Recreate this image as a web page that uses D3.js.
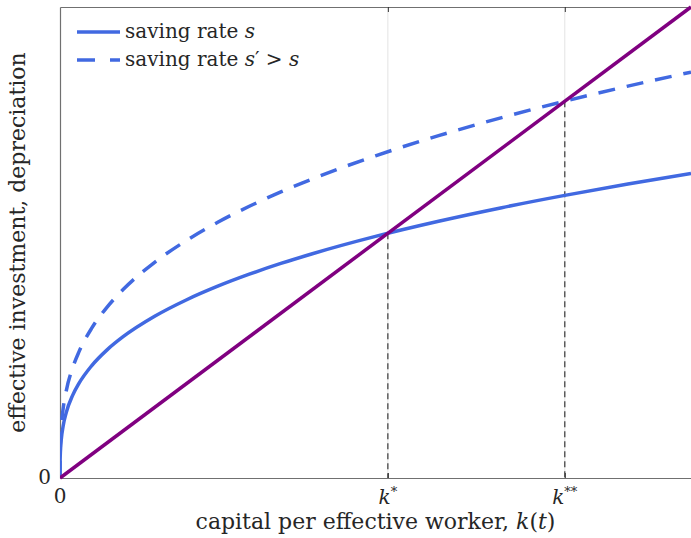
<!DOCTYPE html>
<html>
<head>
<meta charset="utf-8">
<script src="https://cdn.jsdelivr.net/npm/d3@7"></script>
<style>
  html, body { margin: 0; padding: 0; background: #fff; }
  svg { display: block; }
  text { font-family: "DejaVu Serif", "Liberation Serif", serif; fill: #262626; }
</style>
</head>
<body>
<svg id="chart" width="691" height="538"></svg>
<script>
// Capital per effective worker (horizontal values)
const capital = [0, 0.001, 0.005, 0.01, 0.02, 0.05, 0.1, 0.2, 0.3, 0.5, 0.75, 1, 1.5, 2, 2.5, 3, 3.5, 4, 5, 6, 7, 8, 9, 10];
// Effective investment with saving rate s
const investmentLow = [0, 0.30, 0.513, 0.646, 0.814, 1.105, 1.393, 1.754, 2.008, 2.381, 2.726, 3.0, 3.434, 3.780, 4.072, 4.327, 4.555, 4.762, 5.130, 5.451, 5.739, 6.0, 6.240, 6.463];
// Effective investment with the higher saving rate s'
const investmentHigh = [0, 0.40, 0.684, 0.862, 1.086, 1.474, 1.857, 2.339, 2.678, 3.175, 3.634, 4.0, 4.579, 5.040, 5.429, 5.769, 6.073, 6.350, 6.840, 7.268, 7.652, 8.0, 8.320, 8.618];
// Effective depreciation (break-even line)
const depreciationK = [0, 10];
const depreciationV = [0, 10];
// Steady states and their tick labels
const steadyK = [5.196, 8.0];
const steadyV = [5.196, 8.0];
const steadyStars = ["*", "**"];
const legendLabels = ["saving rate ", "saving rate "];

const W = 691, H = 538;
const m = { left: 60, right: 0, top: 7, bottom: 60 };
const svg = d3.select("#chart");

const x = d3.scaleLinear().domain([0, 10]).range([m.left, W - m.right]);
const y = d3.scaleLinear().domain([0, 10]).range([H - m.bottom, m.top]);

const blue = "#4169E1", purple = "#800080", axisGray = "#707070";

svg.append("defs").append("clipPath").attr("id", "plotClip")
  .append("rect").attr("x", x(0)).attr("y", y(10) - 2)
  .attr("width", x(10) - x(0) + 2).attr("height", y(0) - y(10) + 4);

// light grid lines at the steady states
svg.append("g").selectAll("line").data(steadyK).join("line")
  .attr("x1", d => x(d)).attr("x2", d => x(d))
  .attr("y1", y(10)).attr("y2", y(0))
  .attr("stroke", "#e3e3e3").attr("stroke-width", 1);

// axes
const xAxisBottom = d3.axisBottom(x).tickValues([0, ...steadyK]).tickSizeInner(-5).tickSizeOuter(0).tickFormat("");
const xAxisTop = d3.axisTop(x).tickValues(steadyK).tickSizeInner(-5).tickSizeOuter(0).tickFormat("");
const yAxis = d3.axisLeft(y).tickValues([0]).tickSizeInner(0).tickSizeOuter(0).tickFormat("");

function styleAxis(g) {
  g.select(".domain").attr("stroke", axisGray).attr("stroke-width", 1.2);
  g.selectAll(".tick line").attr("stroke", "#333").attr("stroke-width", 1);
}
svg.append("g").attr("transform", `translate(0,${y(0)})`).call(xAxisBottom).call(styleAxis);
svg.append("g").attr("transform", `translate(0,${y(10)})`).call(xAxisTop).call(styleAxis);
svg.append("g").attr("transform", `translate(${x(0)},0)`).call(yAxis).call(styleAxis);

// dashed drop lines from each steady state to the axis
svg.append("g").selectAll("line").data(steadyK).join("line")
  .attr("x1", d => x(d)).attr("x2", d => x(d))
  .attr("y1", (d, i) => y(steadyV[i])).attr("y2", y(0))
  .attr("stroke", "#3a3a3a").attr("stroke-width", 1.2)
  .attr("stroke-dasharray", "6,4");

// curves
const line = d3.line().x(d => x(d[0])).y(d => y(d[1])).curve(d3.curveMonotoneX);
const plot = svg.append("g").attr("clip-path", "url(#plotClip)");

plot.append("path").datum(d3.zip(capital, investmentLow))
  .attr("d", line).attr("fill", "none").attr("stroke", blue).attr("stroke-width", 3.5);
plot.append("path").datum(d3.zip(capital, investmentHigh))
  .attr("d", line).attr("fill", "none").attr("stroke", blue).attr("stroke-width", 3.5)
  .attr("stroke-dasharray", "17,12");
plot.append("path").datum(d3.zip(depreciationK, depreciationV))
  .attr("d", d3.line().x(d => x(d[0])).y(d => y(d[1])))
  .attr("fill", "none").attr("stroke", purple).attr("stroke-width", 3.5);

// tick labels
svg.append("text").attr("x", x(0)).attr("y", y(0) + 25).attr("text-anchor", "middle")
  .attr("font-size", 20).text("0");
svg.append("text").attr("x", x(0) - 9).attr("y", y(0) + 6).attr("text-anchor", "end")
  .attr("font-size", 20).text("0");
steadyK.forEach((k, i) => {
  const t = svg.append("text").attr("x", x(k)).attr("y", y(0) + 26)
    .attr("text-anchor", "middle").attr("font-size", 20);
  t.append("tspan").attr("font-style", "italic").text("k");
  t.append("tspan").attr("font-size", 13).attr("dy", -8).text(steadyStars[i]);
});

// axis titles
const xt = svg.append("text").attr("x", (x(0) + x(10)) / 2).attr("y", 529)
  .attr("text-anchor", "middle").attr("font-size", 22);
xt.append("tspan").text("capital per effective worker, ");
xt.append("tspan").attr("font-style", "italic").text("k");
xt.append("tspan").text("(");
xt.append("tspan").attr("font-style", "italic").text("t");
xt.append("tspan").text(")");

svg.append("text")
  .attr("transform", `translate(25,${(y(0) + y(10)) / 2}) rotate(-90)`)
  .attr("text-anchor", "middle").attr("font-size", 22)
  .text("effective investment, depreciation");

// legend
const lg = svg.append("g");
const legendY = [32, 60];
lg.append("line").attr("x1", 77).attr("x2", 120).attr("y1", legendY[0]).attr("y2", legendY[0])
  .attr("stroke", blue).attr("stroke-width", 3.5);
lg.append("line").attr("x1", 77).attr("x2", 120).attr("y1", legendY[1]).attr("y2", legendY[1])
  .attr("stroke", blue).attr("stroke-width", 3.5).attr("stroke-dasharray", "18,15");

const l1 = lg.append("text").attr("x", 125).attr("y", legendY[0] + 6).attr("font-size", 20);
l1.append("tspan").text(legendLabels[0]);
l1.append("tspan").attr("font-style", "italic").text("s");

const l2 = lg.append("text").attr("x", 125).attr("y", legendY[1] + 6).attr("font-size", 20);
l2.append("tspan").text(legendLabels[1]);
l2.append("tspan").attr("font-style", "italic").text("s");
l2.append("tspan").text("′");
l2.append("tspan").text(" > ");
l2.append("tspan").attr("font-style", "italic").text("s");
</script>
</body>
</html>
